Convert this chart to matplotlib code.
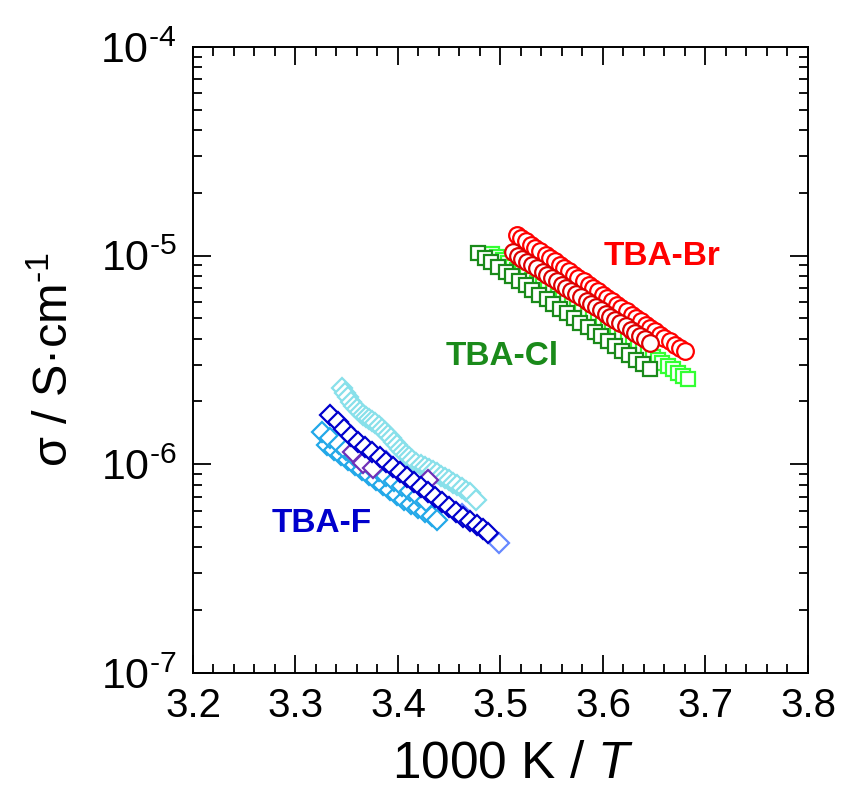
import numpy as np
import matplotlib
matplotlib.use("Agg")
import matplotlib.pyplot as plt
from matplotlib.ticker import LogLocator, FixedLocator, MultipleLocator, NullFormatter

plt.rcParams["font.family"] = ["Liberation Sans", "DejaVu Sans"]
plt.rcParams["mathtext.fontset"] = "custom"
plt.rcParams["mathtext.rm"] = "Liberation Sans"
plt.rcParams["mathtext.it"] = "Liberation Sans:italic"

# TBA-Br, two runs (red circles)
br1_x = [3.516, 3.520, 3.525, 3.530, 3.534, 3.539, 3.544, 3.548, 3.553, 3.558, 3.562, 3.567,
         3.572, 3.576, 3.581, 3.586, 3.590, 3.595, 3.600, 3.604, 3.609, 3.614, 3.618, 3.623,
         3.628, 3.632, 3.637, 3.642, 3.646, 3.651, 3.656, 3.660, 3.665, 3.670, 3.675, 3.680]
br1_y = [1.26e-5, 1.21e-5, 1.17e-5, 1.13e-5, 1.09e-5, 1.05e-5, 1.01e-5, 9.75e-6, 9.40e-6,
         9.05e-6, 8.74e-6, 8.42e-6, 8.11e-6, 7.82e-6, 7.54e-6, 7.27e-6, 7.00e-6, 6.75e-6,
         6.51e-6, 6.27e-6, 6.05e-6, 5.83e-6, 5.62e-6, 5.41e-6, 5.22e-6, 5.03e-6, 4.85e-6,
         4.67e-6, 4.50e-6, 4.34e-6, 4.18e-6, 4.03e-6, 3.89e-6, 3.74e-6, 3.61e-6, 3.48e-6]
br2_x = [3.512, 3.517, 3.521, 3.526, 3.531, 3.536, 3.541, 3.545, 3.550, 3.555, 3.560, 3.564,
         3.569, 3.574, 3.579, 3.584, 3.588, 3.593, 3.598, 3.603, 3.607, 3.612, 3.617, 3.622,
         3.627, 3.631, 3.636, 3.641, 3.646]
br2_y = [1.04e-5, 1.00e-5, 9.67e-6, 9.33e-6, 9.01e-6, 8.69e-6, 8.39e-6, 8.09e-6, 7.81e-6,
         7.54e-6, 7.27e-6, 7.02e-6, 6.77e-6, 6.54e-6, 6.31e-6, 6.09e-6, 5.87e-6, 5.67e-6,
         5.47e-6, 5.28e-6, 5.09e-6, 4.91e-6, 4.74e-6, 4.58e-6, 4.42e-6, 4.26e-6, 4.11e-6,
         3.97e-6, 3.83e-6]

# TBA-Cl (dark green and light green squares)
cl1_x = [3.478, 3.485, 3.491, 3.498, 3.505, 3.511, 3.518, 3.525, 3.531, 3.538, 3.545, 3.551,
         3.558, 3.565, 3.572, 3.578, 3.585, 3.592, 3.598, 3.605, 3.612, 3.619, 3.625, 3.632,
         3.639, 3.646]
cl1_y = [1.03e-5, 9.79e-6, 9.30e-6, 8.83e-6, 8.39e-6, 7.97e-6, 7.57e-6, 7.20e-6, 6.84e-6,
         6.49e-6, 6.17e-6, 5.86e-6, 5.57e-6, 5.29e-6, 5.03e-6, 4.78e-6, 4.54e-6, 4.31e-6,
         4.10e-6, 3.89e-6, 3.70e-6, 3.51e-6, 3.34e-6, 3.17e-6, 3.01e-6, 2.86e-6]
cl2_x = [3.492, 3.497, 3.502, 3.507, 3.512, 3.516, 3.521, 3.526, 3.531, 3.536, 3.541, 3.546,
         3.551, 3.556, 3.561, 3.565, 3.570, 3.575, 3.580, 3.585, 3.590, 3.595, 3.600, 3.605,
         3.609, 3.614, 3.619, 3.624, 3.629, 3.634, 3.639, 3.644, 3.649, 3.654, 3.658, 3.663,
         3.668, 3.673, 3.678, 3.683]
cl2_y = [1.02e-5, 9.85e-6, 9.50e-6, 9.17e-6, 8.85e-6, 8.54e-6, 8.25e-6, 7.96e-6, 7.68e-6,
         7.41e-6, 7.16e-6, 6.91e-6, 6.67e-6, 6.43e-6, 6.21e-6, 5.99e-6, 5.78e-6, 5.58e-6,
         5.39e-6, 5.20e-6, 5.02e-6, 4.85e-6, 4.68e-6, 4.51e-6, 4.36e-6, 4.20e-6, 4.06e-6,
         3.92e-6, 3.78e-6, 3.65e-6, 3.52e-6, 3.40e-6, 3.28e-6, 3.17e-6, 3.06e-6, 2.95e-6,
         2.85e-6, 2.75e-6, 2.65e-6, 2.56e-6]

# TBA-F runs (diamonds)
f_cyan_x = [3.345, 3.348, 3.351, 3.354, 3.357, 3.360, 3.363, 3.366, 3.369, 3.372, 3.375, 3.378,
            3.381, 3.384, 3.387, 3.390, 3.393, 3.396, 3.399, 3.402, 3.405, 3.408, 3.411, 3.414,
            3.418, 3.422, 3.426, 3.430, 3.434, 3.438, 3.442, 3.446, 3.450, 3.454, 3.458, 3.462,
            3.466, 3.470, 3.476]
f_cyan_y = [2.32e-6, 2.20e-6, 2.09e-6, 1.99e-6, 1.90e-6, 1.84e-6, 1.78e-6, 1.73e-6, 1.69e-6,
            1.65e-6, 1.61e-6, 1.57e-6, 1.53e-6, 1.48e-6, 1.43e-6, 1.38e-6, 1.33e-6, 1.28e-6,
            1.24e-6, 1.19e-6, 1.15e-6, 1.11e-6, 1.08e-6, 1.05e-6, 1.02e-6, 9.95e-7, 9.72e-7,
            9.52e-7, 9.30e-7, 9.05e-7, 8.82e-7, 8.60e-7, 8.38e-7, 8.15e-7, 7.92e-7, 7.68e-7,
            7.45e-7, 7.25e-7, 6.75e-7]
f_sky1_x = [3.326, 3.334, 3.342, 3.349, 3.357, 3.365, 3.373, 3.381, 3.388, 3.396, 3.404, 3.412,
            3.420, 3.427]
f_sky1_y = [1.43e-6, 1.34e-6, 1.25e-6, 1.17e-6, 1.10e-6, 1.04e-6, 9.82e-7, 9.30e-7, 8.80e-7,
            8.33e-7, 7.88e-7, 7.46e-7, 7.06e-7, 6.68e-7]
f_sky2_x = [3.331, 3.338, 3.344, 3.351, 3.358, 3.365, 3.372, 3.379, 3.385, 3.392, 3.399, 3.406,
            3.413, 3.420, 3.426, 3.433, 3.438]
f_sky2_y = [1.24e-6, 1.17e-6, 1.11e-6, 1.05e-6, 9.93e-7, 9.40e-7, 8.90e-7, 8.42e-7, 7.96e-7,
            7.54e-7, 7.13e-7, 6.75e-7, 6.46e-7, 6.18e-7, 5.91e-7, 5.66e-7, 5.42e-7]
f_purple_x = [3.356, 3.366, 3.376, 3.429]
f_purple_y = [1.15e-6, 1.02e-6, 9.6e-7, 8.4e-7]
f_light_x = [3.388, 3.462, 3.4985]
f_light_y = [1.04e-6, 5.80e-7, 4.20e-7]
f_dark_x = [3.334, 3.341, 3.347, 3.354, 3.361, 3.368, 3.375, 3.382, 3.388, 3.395, 3.402, 3.409,
            3.416, 3.422, 3.429, 3.436, 3.443, 3.450, 3.457, 3.463, 3.470, 3.477, 3.483, 3.488]
f_dark_y = [1.725e-6, 1.596e-6, 1.477e-6, 1.368e-6, 1.280e-6, 1.212e-6, 1.147e-6, 1.085e-6,
            1.027e-6, 9.72e-7, 9.20e-7, 8.70e-7, 8.23e-7, 7.79e-7, 7.37e-7, 6.98e-7, 6.60e-7,
            6.25e-7, 5.91e-7, 5.60e-7, 5.36e-7, 5.12e-7, 4.90e-7, 4.69e-7]

labels = ["TBA-Br", "TBA-Cl", "TBA-F"]
label_x = [3.6576, 3.5015, 3.3259]
label_y = [9.87e-6, 3.30e-6, 5.18e-7]
label_colors = ["#FF0000", "#1A8A1A", "#0000CC"]

xticks = [3.2, 3.3, 3.4, 3.5, 3.6, 3.7, 3.8]
yticks = [1e-7, 1e-6, 1e-5, 1e-4]
ytick_labels = [r"$10^{\text{-7}}$", r"$10^{\text{-6}}$", r"$10^{\text{-5}}$", r"$10^{\text{-4}}$"]

fig = plt.figure(figsize=(8.49, 7.92), dpi=100)
ax = fig.add_axes([0.2273, 0.1503, 0.7244, 0.7904])

mk = dict(linestyle="none", markerfacecolor="white", markeredgewidth=1.6)

ax.plot(cl2_x, cl2_y, marker="s", ms=9.5, markeredgecolor="#33FF33", **mk)
ax.plot(cl1_x, cl1_y, marker="s", ms=9.5, markeredgecolor="#1A8A1A", **mk)
ax.plot(br1_x, br1_y, marker="o", ms=12, markeredgecolor="#FF0000", **mk)
ax.plot(br2_x, br2_y, marker="o", ms=12, markeredgecolor="#DD0000", **mk)

dm = 10.5
ax.plot(f_cyan_x, f_cyan_y, marker="D", ms=dm, markeredgecolor="#88E0EA", **mk)
ax.plot(f_sky2_x, f_sky2_y, marker="D", ms=dm, markeredgecolor="#22A8E8", **mk)
ax.plot(f_sky1_x, f_sky1_y, marker="D", ms=dm, markeredgecolor="#22A8E8", **mk)
ax.plot(f_purple_x, f_purple_y, marker="D", ms=dm, markeredgecolor="#7030B8", **mk)
ax.plot(f_light_x, f_light_y, marker="D", ms=dm, markeredgecolor="#6688FF", **mk)
ax.plot(f_dark_x, f_dark_y, marker="D", ms=dm, markeredgecolor="#0000CC", **mk)

for t, x, y, c in zip(labels, label_x, label_y, label_colors):
    ax.text(x, y, t, color=c, fontsize=24, fontweight="bold", ha="center", va="center")

ax.set_xlim(3.2, 3.8)
ax.set_yscale("log")
ax.set_ylim(1e-7, 1e-4)
ax.xaxis.set_major_locator(FixedLocator(xticks))
ax.xaxis.set_minor_locator(MultipleLocator(0.02))
ax.set_xticklabels([f"{v:.1f}" for v in xticks])
ax.yaxis.set_major_locator(FixedLocator(yticks))
ax.set_yticklabels(ytick_labels)
ax.yaxis.set_minor_locator(LogLocator(base=10, subs=np.arange(2, 10)))
ax.yaxis.set_minor_formatter(NullFormatter())

ax.tick_params(which="both", direction="in", top=True, right=True, width=1.3)
ax.tick_params(which="major", length=13, pad=10)
ax.tick_params(which="minor", length=6.5)
ax.tick_params(axis="x", labelsize=29)
ax.tick_params(axis="y", labelsize=31, pad=12)
for s in ax.spines.values():
    s.set_linewidth(1.4)

ax.set_xlabel("1000 K / $T$", fontsize=37)
ax.xaxis.set_label_coords(0.52, -0.107)
ax.set_ylabel(r"σ / S·cm$^{\text{-1}}$", fontsize=35, labelpad=16)

fig.savefig("out.png", dpi=100)
